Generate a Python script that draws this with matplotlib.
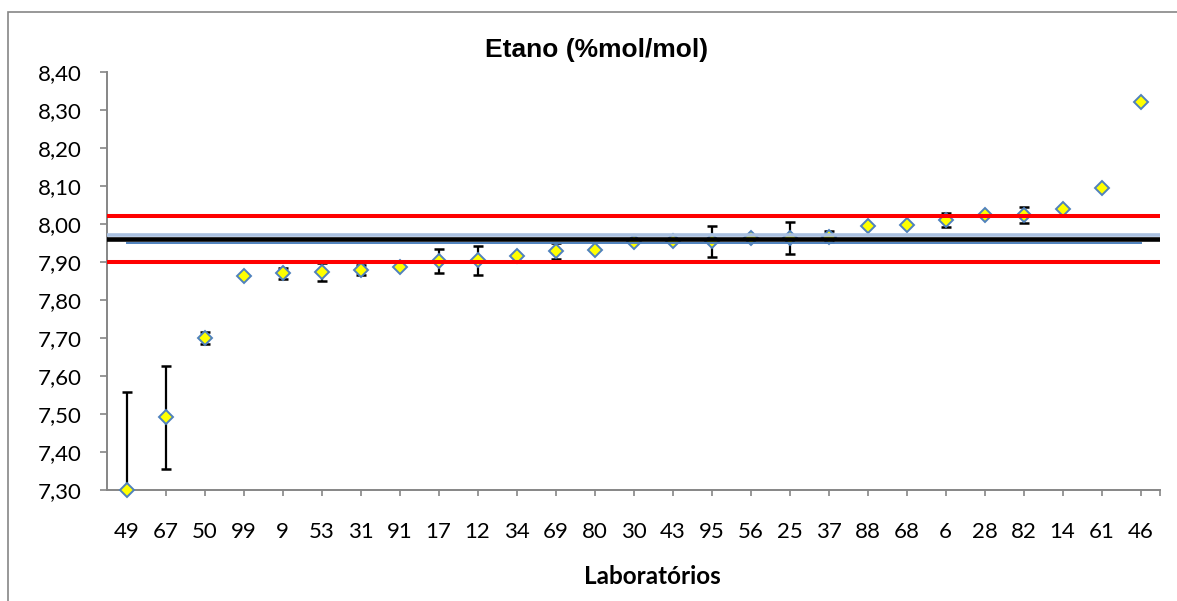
import matplotlib
matplotlib.use("Agg")
import matplotlib.pyplot as plt
from matplotlib.patches import Rectangle
from matplotlib.ticker import FixedLocator, FuncFormatter
import numpy as np

# Laboratories, ordered by reported value
labs = ["49", "67", "50", "99", "9", "53", "31", "91", "17", "12", "34", "69", "80", "30",
        "43", "95", "56", "25", "37", "88", "68", "6", "28", "82", "14", "61", "46"]
values = [7.300, 7.491, 7.699, 7.863, 7.870, 7.874, 7.880, 7.886, 7.902, 7.905, 7.915, 7.929,
          7.932, 7.953, 7.954, 7.955, 7.963, 7.964, 7.967, 7.995, 7.997, 8.011, 8.023, 8.023,
          8.039, 8.095, 8.320]
uncert = [0.257, 0.136, 0.016, 0.0, 0.015, 0.024, 0.013, 0.0, 0.031, 0.038, 0.0, 0.020,
          0.0, 0.0, 0.0, 0.041, 0.0, 0.042, 0.014, 0.0, 0.0, 0.019, 0.0, 0.021,
          0.0, 0.0, 0.0]

# Reference levels
assigned_value = 7.96
upper_band = 7.97
reference_series = 7.95
limit_upper = 8.02
limit_lower = 7.90

yticks = [7.30, 7.40, 7.50, 7.60, 7.70, 7.80, 7.90, 8.00, 8.10, 8.20, 8.30, 8.40]

W, H = 1177, 601
fig = plt.figure(figsize=(W / 100, H / 100), dpi=100)
fig.patch.set_facecolor("white")

# outer chart border (left and top edges visible)
fig.patches.append(Rectangle((8 / W, -0.05), 1.2, 1 - 12 / H + 0.05,
                             transform=fig.transFigure, fill=False,
                             edgecolor="#868686", linewidth=1.2))

ax = fig.add_axes([107 / W, 1 - 490 / H, (1160 - 107) / W, (490 - 72) / H])
x = np.arange(len(labs))
vals = np.array(values)
err = np.array(uncert)
has_err = err > 0

ax.errorbar(x[has_err], vals[has_err], yerr=err[has_err], fmt="none", ecolor="black",
            elinewidth=1.6, capsize=3.8, capthick=1.8, zorder=2)
ax.plot(x, vals, linestyle="none", marker="D", markersize=7,
        markerfacecolor="#FFFF00", markeredgecolor="#4F81BD", markeredgewidth=1.4,
        zorder=3, clip_on=False)

ax.plot(x, [reference_series] * len(x), color="#4F81BD", linewidth=1.4, zorder=4)
ax.axhline(upper_band, color="#A9C0E0", linewidth=2.6, zorder=4)
ax.axhline(assigned_value, color="black", linewidth=3.3, zorder=5)
ax.axhline(limit_upper, color="#FF0000", linewidth=2.9, zorder=6)
ax.axhline(limit_lower, color="#FF0000", linewidth=2.9, zorder=6)

ax.set_xlim(-0.5, len(labs) - 0.5)
ax.set_ylim(7.30, 8.40)

ax.yaxis.set_major_locator(FixedLocator(yticks))
ax.yaxis.set_major_formatter(FuncFormatter(lambda v, p: f"{v:.2f}".replace(".", ",")))
ax.set_xticks(list(x) + [len(labs) - 0.5])
ax.set_xticklabels(labs + [""])

for s in ["top", "right"]:
    ax.spines[s].set_visible(False)
for s in ["left", "bottom"]:
    ax.spines[s].set_color("#868686")
    ax.spines[s].set_linewidth(1.4)

ax.tick_params(axis="y", direction="out", length=5, width=1.2, color="#868686",
               pad=13, labelsize=16)
ax.tick_params(axis="x", direction="out", length=4, width=1.2, color="#868686",
               pad=19, labelsize=16)
for lab in ax.get_xticklabels() + ax.get_yticklabels():
    lab.set_fontfamily("Lato")
    lab.set_color("black")

fig.text(597 / W, 1 - 50 / H, "Etano (%mol/mol)", ha="center", va="center",
         fontsize=19, fontweight="bold", fontfamily="Liberation Sans")
fig.text(652 / W, 1 - 576 / H, "Laboratórios", ha="center", va="center",
         fontsize=17.5, fontweight="bold", fontfamily="Lato")

fig.savefig("out.png", dpi=100, facecolor="white")
